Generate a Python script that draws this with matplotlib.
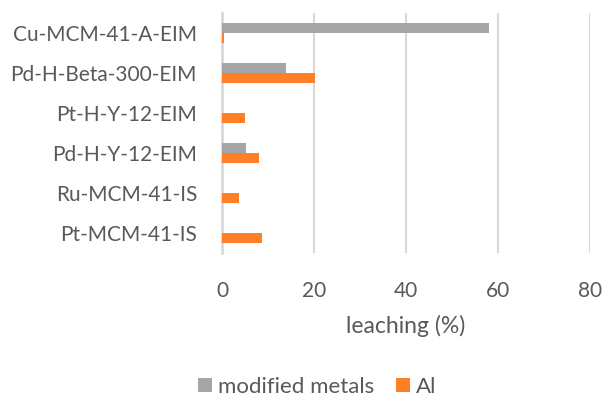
import numpy as np
import matplotlib.pyplot as plt

plt.rcParams['font.family'] = ['Lato', 'DejaVu Sans']

# catalysts, top to bottom
catalysts = ["Cu-MCM-41-A-EIM", "Pd-H-Beta-300-EIM", "Pt-H-Y-12-EIM",
             "Pd-H-Y-12-EIM", "Ru-MCM-41-IS", "Pt-MCM-41-IS"]
modified_metals = [58.0, 14.0, 0.0, 5.2, 0.0, 0.0]
al = [0.5, 20.2, 5.1, 8.0, 3.7, 8.6]
xticks = [0, 20, 40, 60, 80]

grey = "#a5a5a5"
orange = "#ff7f27"
text_col = "#595959"

fig = plt.figure(figsize=(6.05, 4.01), dpi=100)
ax = fig.add_axes([222 / 605, 1 - 253 / 401, 368 / 605, 240 / 401])

y = np.arange(len(catalysts))
h = 0.25
ax.barh(y - h / 2, modified_metals, height=h, color=grey, label="modified metals", zorder=3)
ax.barh(y + h / 2, al, height=h, color=orange, label="Al", zorder=3)

ax.set_ylim(len(catalysts) - 0.5, -0.5)
ax.set_xlim(0, 80)
ax.set_yticks(y)
ax.set_yticklabels(catalysts, fontsize=15, color=text_col)
ax.set_xticks(xticks)
ax.set_xticklabels([str(t) for t in xticks], fontsize=15, color=text_col)
ax.tick_params(axis='both', length=0)
ax.tick_params(axis='x', pad=20)
ax.tick_params(axis='y', pad=18)

ax.grid(axis='x', color="#d9d9d9", linewidth=1.5, zorder=0)
for s in ["top", "right", "bottom"]:
    ax.spines[s].set_visible(False)
ax.spines["left"].set_color("#d9d9d9")
ax.spines["left"].set_linewidth(2)
ax.spines["left"].set_zorder(1)

ax.set_xlabel("leaching (%)", fontsize=16.5, color=text_col, labelpad=10)

leg = fig.legend(loc="center", bbox_to_anchor=(317 / 605, 1 - 387 / 401), ncol=2,
                 frameon=False, fontsize=16, handlelength=0.62, handleheight=0.62,
                 handletextpad=0.27, columnspacing=1.0, borderpad=0)
for t in leg.get_texts():
    t.set_color(text_col)

fig.savefig("out.png", dpi=100)
